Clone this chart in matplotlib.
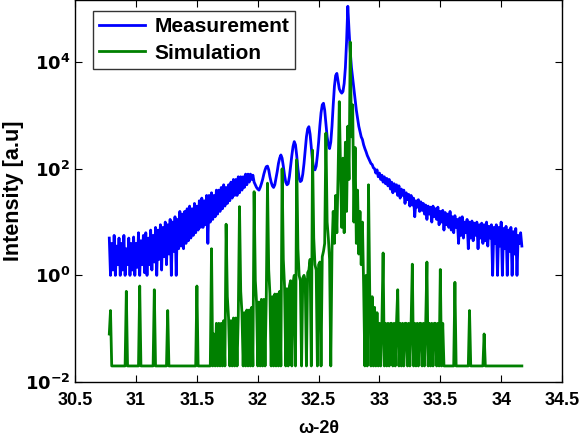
import numpy as np
import matplotlib
matplotlib.use('Agg')
import matplotlib.pyplot as plt

plt.rcParams['font.family'] = ['Liberation Sans', 'DejaVu Sans']
plt.rcParams['font.weight'] = 'bold'
plt.rcParams['mathtext.default'] = 'bf'

# scan grid (omega-2theta), 0.01 deg steps
scan_start = 30.78
scan_step = 0.01

meas_log = [
    0.7, 0.0, 0.6, 0.1, 0.75, 0.0, 0.55, 0.2, 0.7, 0.0,
    0.6, 0.1, 0.75, 0.0, 0.5, 0.2, 0.7, 0.0, 0.6, 0.1,
    0.72, 0.0, 0.6, 0.15, 0.8, 0.0, 0.65, 0.2, 0.75, 0.05,
    0.8, 0.0, 0.7, 0.2, 0.85, 0.1, 0.75, 0.25, 0.9, 0.0,
    0.85, 0.3, 0.95, 0.1, 0.9, 0.35, 1.0, 0.2, 0.95, 0.4,
    1.05, 0.0, 1.0, 0.45, 1.1, 0.0, 1.05, 0.5, 1.2, 0.55,
    1.15, 0.5, 1.2, 0.6, 1.25, 0.65, 1.3, 0.7, 1.25, 0.75,
    1.35, 0.8, 1.3, 0.85, 1.4, 0.9, 1.45, 0.9, 1.4, 0.95,
    1.5, 0.6, 1.5, 1.0, 1.55, 1.05, 1.5, 1.1, 1.6, 1.15,
    1.6, 1.2, 1.65, 1.25, 1.7, 1.3, 1.65, 1.35, 1.7, 1.4,
    1.75, 1.45, 1.8, 1.5, 1.8, 1.5, 1.85, 1.55, 1.85, 1.6,
    1.85, 1.65, 1.9, 1.7, 1.9, 1.75, 1.9, 1.8, 1.88, 1.75,
    1.7, 1.65, 1.62, 1.6, 1.65, 1.72, 1.8, 1.9, 1.98, 2.04,
    2.05, 1.98, 1.85, 1.75, 1.68, 1.65, 1.7, 1.82, 1.95, 2.1,
    2.2, 2.26, 2.2, 2.05, 1.88, 1.75, 1.7, 1.72, 1.85, 2.05,
    2.25, 2.42, 2.51, 2.45, 2.25, 2.0, 1.82, 1.76, 1.78, 1.9,
    2.1, 2.35, 2.6, 2.75, 2.79, 2.65, 2.4, 2.15, 2.0, 1.98,
    2.05, 2.25, 2.5, 2.8, 3.05, 3.2, 3.23, 3.1, 2.85, 2.6,
    2.45, 2.38, 2.5, 2.8, 3.2, 3.55, 3.75, 3.79, 3.65, 3.5,
    3.45, 3.42, 3.45, 3.6, 3.9, 4.4, 5.05, 4.6, 4.2, 3.9,
    3.7, 3.5, 3.3, 3.1, 2.95, 2.8, 2.7, 2.6, 2.55, 2.45,
    2.38, 2.32, 2.25, 2.2, 2.15, 2.1, 2.08, 2.02, 2.0, 1.92,
    1.98, 1.85, 1.92, 1.8, 1.88, 1.75, 1.85, 1.72, 1.82, 1.68,
    1.8, 1.62, 1.75, 1.55, 1.72, 1.58, 1.7, 1.5, 1.68, 1.45,
    1.62, 1.5, 1.6, 1.35, 1.55, 1.42, 1.52, 1.3, 1.5, 1.32,
    1.45, 1.1, 1.4, 1.28, 1.42, 1.2, 1.38, 1.22, 1.35, 1.15,
    1.32, 1.05, 1.3, 1.15, 1.28, 1.0, 1.3, 1.1, 1.25, 1.05,
    1.28, 0.95, 1.2, 1.0, 1.22, 0.85, 1.18, 0.95, 1.15, 0.9,
    1.2, 0.85, 1.1, 0.8, 1.12, 0.9, 1.05, 0.6, 1.08, 0.75,
    1.1, 0.7, 1.0, 0.8, 1.05, 0.5, 1.0, 0.7, 1.02, 0.65,
    0.98, 0.75, 1.0, 0.5, 0.95, 0.7, 0.98, 0.6, 0.95, 0.65,
    1.0, 0.55, 0.92, 0.7, 0.95, 0.0, 0.9, 0.6, 0.95, 0.0,
    0.9, 0.55, 1.0, 0.0, 0.88, 0.5, 0.92, 0.0, 0.85, 0.45,
    0.9, 0.0, 0.82, 0.4, 0.88, 0.0, 0.75, 0.6, 0.8, 0.55,
]

# simulated intensity, log10 values
sim_log = [
    -1.1, -0.66, -1.7, -1.7, -1.7, -1.7, -1.7, -1.7, -1.7, -1.7,
    -1.7, -1.7, -1.7, -1.7, -0.3, -1.7, -1.7, -1.7, -1.7, -1.7,
    -1.7, -1.7, -1.7, -1.7, -1.7, -0.2, -1.7, -1.7, -1.7, -1.7,
    -1.7, -1.7, -1.7, -1.7, -1.7, -1.7, -1.7, -0.27, -1.7, -1.7,
    -1.7, -1.7, -1.7, -1.7, -1.7, -1.7, -1.7, -1.7, -0.66, -1.7,
    -1.7, -1.7, -1.7, -1.7, -1.7, -1.7, -1.7, -1.7, -1.7, -1.7,
    -1.7, -1.7, -1.7, -1.7, -1.7, -1.7, -1.7, -1.7, -1.7, -1.7,
    -1.7, -1.7, -0.2, -1.7, -1.7, -1.7, -1.7, -1.7, -1.7, -1.7,
    -1.7, -1.7, -1.7, -1.7, 0.5, -1.7, -1.1, -1.7, -0.9, -1.7,
    -0.9, -1.7, -0.9, -1.7, -0.85, -1.7, 0.96, -0.4, -0.8, -1.7,
    -0.85, -1.7, -0.8, -1.7, -0.8, -1.7, -0.75, 1.29, -0.3, -0.7,
    -1.7, -0.7, -1.7, -0.65, -1.7, -0.65, -1.7, -0.6, -1.7, 1.57,
    -0.1, -0.5, -1.7, -0.5, -1.7, -0.45, -1.7, -0.45, -1.7, -0.4,
    1.73, 0.1, -0.35, -1.7, -0.4, -1.7, -0.35, -1.7, -0.35, -1.7,
    -0.3, -1.7, 2.0, 0.3, -0.2, -1.7, -0.25, -1.7, -0.2, -0.1,
    -1.7, -0.15, 0.0, -1.7, 2.17, 0.5, 0.0, -0.1, -1.7, -0.05,
    0.0, -0.1, -1.7, 0.05, 0.1, 0.3, -1.7, 2.35, 0.7, 0.2,
    0.1, -1.7, 0.2, 0.25, -1.7, 0.35, 0.45, 0.6, 2.67, 1.0,
    0.7, 0.3, -1.7, 0.5, 1.2, 0.6, 1.5, 0.8, 1.9, 3.26,
    2.0, 0.9, 2.2, 0.8, 2.5, 1.2, 2.8, 1.8, 4.38, 2.6,
    3.2, 1.0, 2.4, 0.6, 1.6, 0.4, 1.2, 0.2, 1.0, -0.2,
    -1.7, 0.0, -1.7, 1.7, -0.3, -1.7, -0.4, -1.7, -0.6, -1.7,
    -0.7, -1.7, -0.9, -1.7, -0.9, 0.42, -1.7, -0.9, -1.7, -0.9,
    -1.7, -0.9, -0.9, -1.7, -0.9, -1.7, -0.9, -0.27, -1.7, -0.9,
    -1.7, -0.9, -1.7, -0.9, -0.9, -1.7, -0.9, -1.7, -0.9, 0.21,
    -1.7, -0.9, -1.7, -0.9, -1.7, -0.9, -0.9, -1.7, -0.9, -1.7,
    -0.9, 0.25, -1.7, -0.9, -1.7, -0.9, -1.7, -0.9, -0.9, -1.7,
    -0.9, -1.7, 0.11, -1.7, -0.9, -1.7, -1.7, -1.7, -1.7, -1.7,
    -1.7, -1.7, -1.7, -1.7, -0.13, -1.7, -1.7, -1.7, -1.7, -1.7,
    -1.7, -1.7, -1.7, -1.7, -1.7, -1.7, -0.66, -1.7, -1.7, -1.7,
    -1.7, -1.7, -1.7, -1.7, -1.7, -1.7, -1.7, -1.7, -1.1, -1.7,
    -1.7, -1.7, -1.7, -1.7, -1.7, -1.7, -1.7, -1.7, -1.7, -1.7,
    -1.7, -1.7, -1.7, -1.7, -1.7, -1.7, -1.7, -1.7, -1.7, -1.7,
    -1.7, -1.7, -1.7, -1.7, -1.7, -1.7, -1.7, -1.7, -1.7, -1.7,
]

x_ticks = [30.5, 31, 31.5, 32, 32.5, 33, 33.5, 34, 34.5]
x_tick_labels = ['30.5', '31', '31.5', '32', '32.5', '33', '33.5', '34', '34.5']
y_ticks = [1e-2, 1e0, 1e2, 1e4]
y_tick_labels = ['$10^{-2}$', '$10^{0}$', '$10^{2}$', '$10^{4}$']

two_theta = scan_start + scan_step * np.arange(len(meas_log))
meas = 10.0 ** np.array(meas_log)
sim = 10.0 ** np.array(sim_log)

fig = plt.figure(figsize=(5.83, 4.36), dpi=100)
ax = fig.add_axes([0.129, 0.124, 0.835, 0.877])

ax.semilogy(two_theta, meas, color='#0000ff', lw=2.0, label='Measurement')
ax.semilogy(two_theta, sim, color='#008000', lw=2.0, label='Simulation')

ax.set_xlim(30.5, 34.5)
ax.set_ylim(1e-2, 1.5e5)
ax.set_xticks(x_ticks)
ax.set_xticklabels(x_tick_labels)
ax.set_yticks(y_ticks)
ax.set_yticklabels(y_tick_labels)
ax.minorticks_off()
ax.tick_params(direction='in', length=5, top=True, right=True, labelsize=13, width=0.8)
ax.tick_params(axis='x', pad=7)
for s in ax.spines.values():
    s.set_linewidth(1.0)

ax.set_xlabel('ω-2θ', fontsize=13, fontweight='bold', labelpad=8)
ax.set_ylabel('Intensity [a.u]', fontsize=15.5, fontweight='bold')
ax.yaxis.set_label_coords(-0.105, 0.5)

leg = ax.legend(loc='upper left', bbox_to_anchor=(0.036, 0.97), borderaxespad=0,
                fontsize=15, frameon=True, fancybox=False, edgecolor='black',
                handlelength=2.2, borderpad=0.3, labelspacing=0.35, handletextpad=0.45)
leg.get_frame().set_linewidth(1.0)

fig.savefig('out.png', dpi=100)
